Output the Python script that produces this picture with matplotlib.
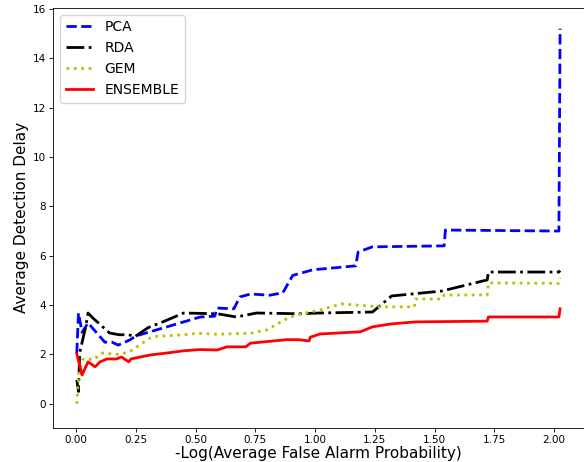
import matplotlib
matplotlib.use('Agg')
import matplotlib.pyplot as plt

# -log(false alarm prob) vs. average detection delay for each detector
pca_x = [0.003, 0.01, 0.025, 0.05, 0.12, 0.15, 0.176, 0.225, 0.25, 0.31, 0.38, 0.45, 0.52,
         0.58, 0.59, 0.66, 0.685, 0.73, 0.81, 0.865, 0.906, 0.99, 1.17, 1.18, 1.24, 1.54,
         1.545, 2.02, 2.025]
pca_y = [2.06, 3.68, 2.9, 3.28, 2.5, 2.5, 2.38, 2.59, 2.75, 2.92, 3.12, 3.32, 3.52,
         3.55, 3.88, 3.85, 4.33, 4.45, 4.4, 4.5, 5.2, 5.43, 5.59, 6.15, 6.36, 6.4,
         7.04, 7.0, 15.2]

rda_x = [0.003, 0.01, 0.015, 0.03, 0.04, 0.05, 0.07, 0.14, 0.18, 0.22, 0.246, 0.3, 0.365,
         0.45, 0.59, 0.67, 0.755, 0.935, 1.02, 1.24, 1.32, 1.53, 1.72, 1.725, 2.02, 2.025]
rda_y = [0.97, 0.5, 2.06, 2.7, 3.1, 3.68, 3.48, 2.87, 2.8, 2.8, 2.72, 3.08, 3.33,
         3.68, 3.65, 3.52, 3.68, 3.65, 3.68, 3.72, 4.37, 4.57, 5.02, 5.34, 5.34, 5.4]

gem_x = [0.003, 0.01, 0.025, 0.045, 0.07, 0.11, 0.18, 0.225, 0.31, 0.33, 0.45, 0.51, 0.59,
         0.73, 0.8, 0.87, 0.92, 1.02, 1.11, 1.27, 1.415, 1.42, 1.53, 1.54, 1.72, 1.725,
         2.02, 2.025]
gem_y = [0.0, 1.1, 1.78, 1.85, 1.78, 2.06, 2.0, 2.12, 2.67, 2.73, 2.8, 2.86, 2.82,
         2.86, 3.0, 3.4, 3.6, 3.8, 4.05, 3.93, 3.93, 4.25, 4.25, 4.41, 4.41, 4.9,
         4.88, 5.1]

ens_x = [0.003, 0.025, 0.05, 0.08, 0.1, 0.13, 0.17, 0.19, 0.22, 0.23, 0.31, 0.38, 0.45,
         0.52, 0.59, 0.63, 0.71, 0.73, 0.84, 0.88, 0.93, 0.975, 0.98, 1.02, 1.19, 1.24,
         1.32, 1.42, 1.72, 1.725, 2.02, 2.025]
ens_y = [2.02, 1.17, 1.7, 1.5, 1.7, 1.82, 1.82, 1.9, 1.7, 1.82, 1.98, 2.06, 2.15,
         2.2, 2.18, 2.31, 2.31, 2.46, 2.56, 2.6, 2.6, 2.55, 2.7, 2.83, 2.92, 3.12,
         3.24, 3.32, 3.35, 3.52, 3.52, 3.85]

fig = plt.figure(figsize=(5.84, 4.62), dpi=100)
ax = fig.add_axes([0.091, 0.074, 0.909, 0.909])

ax.plot(pca_x, pca_y, 'b--', lw=2, label='PCA')
ax.plot(rda_x, rda_y, 'k-.', lw=2, label='RDA')
ax.plot(gem_x, gem_y, 'y:', lw=2, label='GEM')
ax.plot(ens_x, ens_y, 'r-', lw=2, label='ENSEMBLE')

ax.set_xlim(-0.096, 2.125)
ax.set_ylim(-0.97, 16.04)
ax.set_xticks([0, 0.25, 0.5, 0.75, 1.0, 1.25, 1.5, 1.75, 2.0])
ax.tick_params(labelsize=7.5, length=2.6, width=0.6, pad=2.6)
for s in ax.spines.values():
    s.set_linewidth(0.6)
ax.set_xlabel('-Log(Average False Alarm Probability)', fontsize=11, labelpad=1)
ax.set_ylabel('Average Detection Delay', fontsize=11, labelpad=3)
ax.legend(loc='upper left', fontsize=10)

fig.savefig('out.png')
